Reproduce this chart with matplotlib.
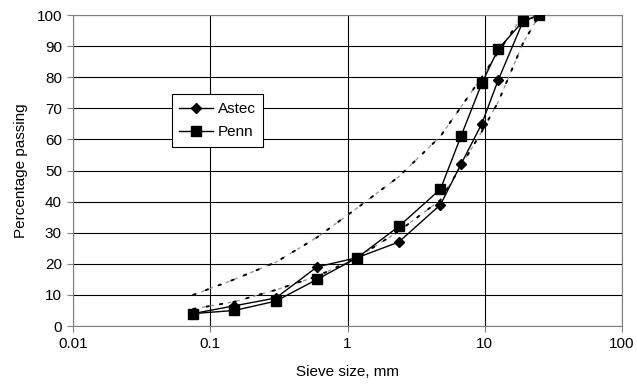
import matplotlib.pyplot as plt
from matplotlib.ticker import FixedLocator, FixedFormatter, NullLocator

plt.rcParams['font.family'] = ['Liberation Sans', 'DejaVu Sans']

# Sieve sizes (mm) and percentage passing
sieves = [0.075, 0.15, 0.3, 0.6, 1.18, 2.36, 4.75, 6.7, 9.5, 12.5, 19, 25]
astec = [4, 6.5, 9, 19, 22, 27, 39, 52, 65, 79, 98, 100]
penn = [4, 5, 8, 15, 22, 32, 44, 61, 78, 89, 98, 100]

# Specification band (dotted)
band_sieves = [0.075, 0.15, 0.3, 0.6, 1.18, 2.36, 4.75, 9.5, 12.5, 19, 25]
upper = [10, 15, 20.5, 28.5, 38, 48, 61, 80, 88, 100, 100]
lower = [5.5, 7.8, 11.6, 16, 22, 30.5, 40.5, 62.5, 72, 91, 100]

fig = plt.figure(figsize=(6.37, 3.87), dpi=100)
ax = fig.add_axes([0.1146, 0.1576, 0.862, 0.8036])

for band in (upper, lower):
    ax.plot(band_sieves, band, color='#909090', lw=0.9, dashes=(3, 4), zorder=2)
    ax.plot(band_sieves, band, color='black', lw=1.4, dashes=(1.2, 5.8),
            dash_capstyle='round', zorder=2)

ax.plot(sieves, astec, color='black', lw=1, marker='D', ms=5, label='Astec', zorder=3)
ax.plot(sieves, penn, color='black', lw=1, marker='s', ms=6.5, label='Penn', zorder=3)

ax.set_xscale('log')
ax.set_xlim(0.01, 100)
ax.set_ylim(0, 100)
ax.xaxis.set_major_locator(FixedLocator([0.01, 0.1, 1, 10, 100]))
ax.xaxis.set_major_formatter(FixedFormatter(['0.01', '0.1', '1', '10', '100']))
ax.xaxis.set_minor_locator(NullLocator())
ax.set_yticks(range(0, 101, 10))

ax.grid(True, color='black', lw=0.8)
ax.set_axisbelow(True)
for s in ax.spines.values():
    s.set_color('#808080')
ax.tick_params(direction='out', length=4, width=0.8, color='#808080',
               labelsize=11, pad=4)

ax.set_xlabel('Sieve size, mm', fontsize=11, labelpad=10)
ax.set_ylabel('Percentage passing', fontsize=11, labelpad=6)

leg = ax.legend(loc='upper left', bbox_to_anchor=(0.18, 0.745), borderaxespad=0,
                fancybox=False, edgecolor='black', framealpha=1, fontsize=11,
                handlelength=2.2, borderpad=0.5, labelspacing=0.6,
                handletextpad=0.3)
leg.get_frame().set_linewidth(0.8)

fig.savefig('out.png', dpi=100)
